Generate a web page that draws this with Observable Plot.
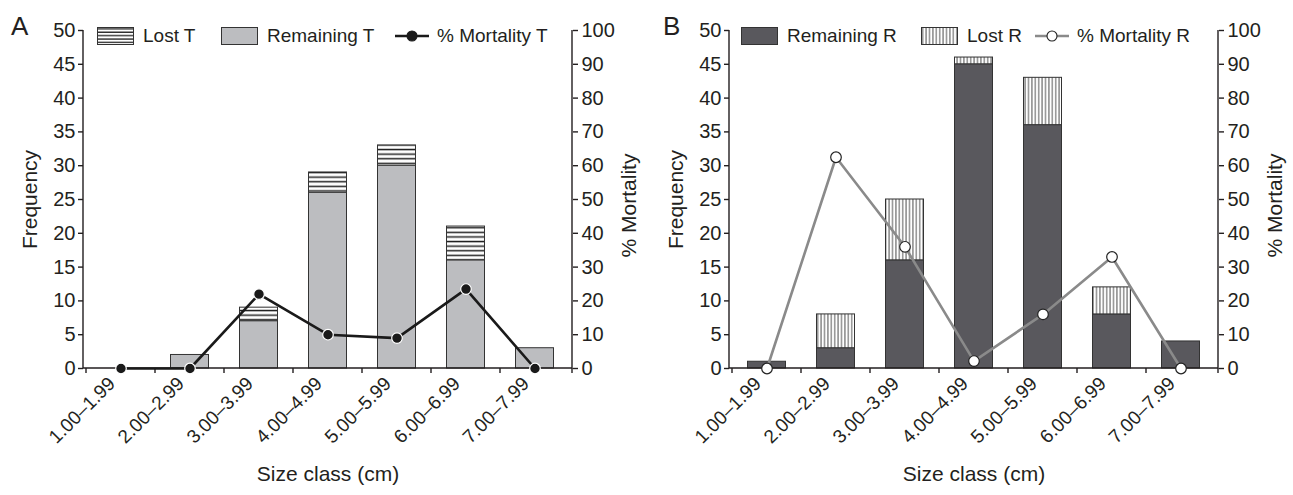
<!DOCTYPE html>
<html><head><meta charset="utf-8">
<script src="https://cdn.jsdelivr.net/npm/d3@7"></script>
<script src="https://cdn.jsdelivr.net/npm/@observablehq/plot@0.6"></script>
<style>
body{margin:0;background:#fff;font-family:"Liberation Sans",Arial,sans-serif;color:#231f20;}
#wrap{position:relative;width:1293px;height:495px;overflow:hidden;}
.panel{position:absolute;top:0;width:646px;height:495px;}
.letter{position:absolute;font-size:26px;line-height:26px;top:13px;}
.lg{position:absolute;top:27px;height:18px;display:flex;align-items:center;font-size:19px;line-height:18px;white-space:nowrap;}
.lg svg{display:block;}
</style></head>
<body>
<div id="wrap">
  <div class="panel" id="pA" style="left:0"></div>
  <div class="panel" id="pB" style="left:646px"></div>
  <div class="letter" style="left:11px">A</div>
  <div class="letter" style="left:663px">B</div>
  <div id="legends"></div>
</div>
<script>
// ---- data ----
const sizeClasses = ["1.00–1.99","2.00–2.99","3.00–3.99","4.00–4.99","5.00–5.99","6.00–6.99","7.00–7.99"];
const remainingT = [0, 2, 7, 26, 30, 16, 3];
const lostT      = [0, 0, 2, 3, 3, 5, 0];
const mortalityT = [0, 0, 22, 10, 9, 23.5, 0];
const remainingR = [1, 3, 16, 45, 36, 8, 4];
const lostR      = [0, 5, 9, 1, 7, 4, 0];
const mortalityR = [0, 62.5, 36, 2.2, 16, 33, 0];
const freqTicks = [0, 5, 10, 15, 20, 25, 30, 35, 40, 45, 50];
const mortTicks = [0, 10, 20, 30, 40, 50, 60, 70, 80, 90, 100];
const xTitle = "Size class (cm)";
const yTitle = "Frequency";
const y2Title = "% Mortality";

const FONT = "Liberation Sans, Arial, sans-serif";
const INK = "#231f20";

function patternDefs() {
  const defs = d3.create("svg:defs");
  const pT = defs.append("pattern").attr("id","hatchT").attr("patternUnits","userSpaceOnUse")
    .attr("width",8).attr("height",4.6);
  pT.append("rect").attr("width",8).attr("height",4.6).attr("fill","#fff");
  pT.append("rect").attr("y",1.6).attr("width",8).attr("height",1.5).attr("fill","#222");
  const pR = defs.append("pattern").attr("id","hatchR").attr("patternUnits","userSpaceOnUse")
    .attr("width",3.4).attr("height",10);
  pR.append("rect").attr("width",3.4).attr("height",10).attr("fill","#fff");
  pR.append("rect").attr("x",1.2).attr("width",1).attr("height",10).attr("fill","#555");
  return defs.node();
}

function axisLines(index, scales, values, dims) {
  const {width, height, marginLeft, marginRight, marginBottom} = dims;
  const x0 = marginLeft, x1 = width - marginRight, y0 = height - marginBottom;
  const yTop = scales.y(freqTicks[freqTicks.length - 1]);
  const g = d3.create("svg:g").attr("stroke", INK).attr("stroke-width", 1.4).attr("fill", "none");
  g.append("path").attr("d", `M${x0},${yTop}V${y0}H${x1}V${yTop}`);
  const bounds = sizeClasses.map(c => scales.x(c)).concat([x1]);
  for (const b of bounds) g.append("line").attr("x1", b).attr("x2", b).attr("y1", y0).attr("y2", y0 + 5);
  return g.node();
}

function panel(remaining, lost, mortality, remFill, lostFill, lineColor, dotFill, dotStroke) {
  const rows = sizeClasses.map((c, i) => ({cls: c, rem: remaining[i], total: remaining[i] + lost[i], mort: mortality[i]}));
  return Plot.plot({
    width: 646, height: 495,
    marginLeft: 83, marginRight: 74, marginTop: 30, marginBottom: 127,
    style: {fontFamily: FONT, fontSize: "20px", color: INK, background: "#fff", overflow: "visible"},
    x: {type: "band", domain: sizeClasses, padding: 0},
    y: {domain: [0, 50]},
    marks: [
      patternDefs,
      Plot.barY(rows, {x: "cls", y1: 0, y2: "rem", fill: remFill, stroke: "#333", strokeWidth: 1, insetLeft: 15.5, insetRight: 15.5}),
      Plot.barY(rows, {x: "cls", y1: "rem", y2: "total", fill: lostFill, stroke: "#333", strokeWidth: 1, insetLeft: 15.5, insetRight: 15.5}),
      axisLines,
      Plot.axisY(freqTicks, {anchor: "left", tickSize: 5, tickPadding: 3, label: null, stroke: INK, strokeWidth: 1.4, fontSize: 20, fill: INK}),
      Plot.axisY(mortTicks.map(v => v / 2), {anchor: "right", tickSize: 5, tickPadding: 4, label: null, tickFormat: d => Math.round(d * 2), stroke: INK, strokeWidth: 1.4, fontSize: 20, fill: INK}),
      Plot.axisX({tickRotate: -45, tickSize: 0, tickPadding: 12, dx: -9, label: null, fontSize: 19, fill: INK}),
      Plot.line(rows, {x: "cls", y: d => d.mort / 2, stroke: lineColor, strokeWidth: 2.6}),
      Plot.dot(rows, {x: "cls", y: d => d.mort / 2, r: 5.3, fill: dotFill, stroke: dotStroke, strokeWidth: 1.2}),
      Plot.text([yTitle], {frameAnchor: "left", textAnchor: "middle", text: d => d, rotate: -90, dx: -53, fontSize: 21, fill: INK}),
      Plot.text([y2Title], {frameAnchor: "right", textAnchor: "middle", text: d => d, rotate: -90, dx: 57, dy: 6, fontSize: 21, fill: INK}),
      Plot.text([xTitle], {frameAnchor: "bottom", text: d => d, dy: 112, fontSize: 21, fill: INK})
    ]
  });
}

document.getElementById("pA").appendChild(
  panel(remainingT, lostT, mortalityT, "#bcbdc0", "url(#hatchT)", "#1a1a1a", "#1a1a1a", "#fff"));
document.getElementById("pB").appendChild(
  panel(remainingR, lostR, mortalityR, "#59585d", "url(#hatchR)", "#8a8a8a", "#fff", "#222"));

// ---- legends ----
const legendItems = [
  {left: 97,  label: "Lost T",        kind: "rect", fill: "url(#lgT)"},
  {left: 221, label: "Remaining T",   kind: "rect", fill: "#bcbdc0"},
  {left: 393, label: "% Mortality T", kind: "line", stroke: "#1a1a1a", dot: "#1a1a1a", dotStroke: "#1a1a1a"},
  {left: 741, label: "Remaining R",   kind: "rect", fill: "#59585d"},
  {left: 921, label: "Lost R",        kind: "rect", fill: "url(#lgR)"},
  {left: 1033,label: "% Mortality R", kind: "line", stroke: "#8a8a8a", dot: "#fff", dotStroke: "#222"}
];
const lg = d3.select("#legends");
for (const it of legendItems) {
  const div = lg.append("div").attr("class", "lg").style("left", it.left + "px");
  if (it.kind === "rect") {
    const s = div.append("svg").attr("width", 37).attr("height", 18).style("margin-right", "9px");
    const defs = s.append("defs");
    const pT = defs.append("pattern").attr("id","lgT").attr("patternUnits","userSpaceOnUse").attr("width",8).attr("height",3.4);
    pT.append("rect").attr("width",8).attr("height",3.4).attr("fill","#fff");
    pT.append("rect").attr("y",1.2).attr("width",8).attr("height",1.3).attr("fill","#222");
    const pR = defs.append("pattern").attr("id","lgR").attr("patternUnits","userSpaceOnUse").attr("width",3.4).attr("height",10);
    pR.append("rect").attr("width",3.4).attr("height",10).attr("fill","#fff");
    pR.append("rect").attr("x",1.2).attr("width",1).attr("height",10).attr("fill","#555");
    s.append("rect").attr("x",0.5).attr("y",0.5).attr("width",36).attr("height",17)
      .attr("fill", it.fill).attr("stroke", "#333").attr("stroke-width", 1);
  } else {
    const s = div.append("svg").attr("width", 38).attr("height", 18).style("margin-right", "6px");
    s.append("line").attr("x1",2).attr("x2",36).attr("y1",9).attr("y2",9).attr("stroke", it.stroke).attr("stroke-width", 2.6);
    s.append("circle").attr("cx",19).attr("cy",9).attr("r",5).attr("fill", it.dot).attr("stroke", it.dotStroke).attr("stroke-width", 1.1);
  }
  div.append("span").text(it.label);
}
</script>
</body></html>
